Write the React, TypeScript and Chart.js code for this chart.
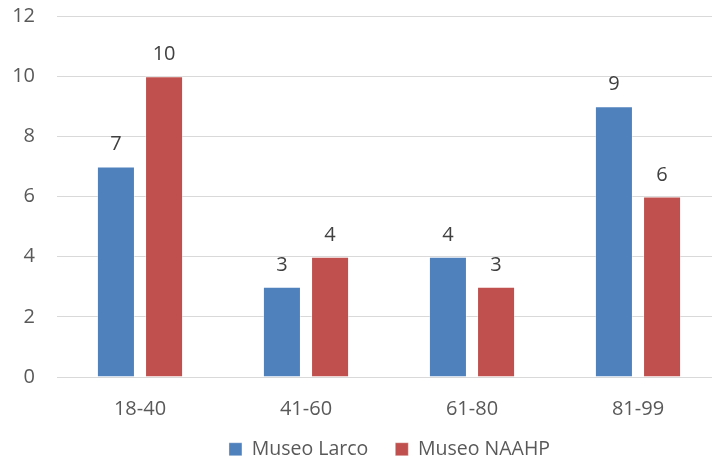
import React, { useEffect, useRef } from "react";
import { Chart, registerables } from "chart.js";

Chart.register(...registerables);

const categories = ["18-40", "41-60", "61-80", "81-99"];
const larco = [7, 3, 4, 9];
const naahp = [10, 4, 3, 6];
const seriesNames = ["Museo Larco", "Museo NAAHP"];
const yTicks = [0, 2, 4, 6, 8, 10, 12];

const FONT = "'Open Sans', 'Noto Sans', sans-serif";
const TEXT = "#595959";

const labelPlugin = {
  id: "barLabels",
  afterDatasetsDraw(chart: any) {
    const ctx = chart.ctx;
    ctx.save();
    ctx.fillStyle = "#404040";
    ctx.font = `20px ${FONT}`;
    ctx.textAlign = "center";
    ctx.textBaseline = "alphabetic";
    chart.data.datasets.forEach((ds: any, i: number) => {
      const meta = chart.getDatasetMeta(i);
      meta.data.forEach((el: any, j: number) => {
        ctx.fillText(String(ds.data[j]), el.x, el.y - 16);
      });
    });
    ctx.restore();
  },
};

export default function App() {
  const ref = useRef<HTMLCanvasElement | null>(null);
  useEffect(() => {
    if (!ref.current) return;
    const chart = new Chart(ref.current, {
      type: "bar",
      data: {
        labels: categories,
        datasets: [
          {
            label: seriesNames[0],
            data: larco,
            backgroundColor: "#4F81BD",
            borderColor: "rgba(255,255,255,0.35)",
            borderWidth: 1,
            categoryPercentage: 0.58,
            barPercentage: 0.79,
          },
          {
            label: seriesNames[1],
            data: naahp,
            backgroundColor: "#C0504D",
            borderColor: "rgba(255,255,255,0.35)",
            borderWidth: 1,
            categoryPercentage: 0.58,
            barPercentage: 0.79,
          },
        ],
      },
      options: {
        animation: false,
        responsive: false,
        devicePixelRatio: 1,
        layout: { padding: 0 },
        plugins: {
          tooltip: { enabled: false },
          legend: {
            position: "bottom",
            labels: {
              boxWidth: 13,
              boxHeight: 13,
              padding: 27,
              color: TEXT,
              font: { family: FONT, size: 19.5 },
            },
          },
        },
        scales: {
          x: {
            grid: { display: false, drawTicks: false },
            border: { display: false },
            ticks: { color: TEXT, font: { family: FONT, size: 20 }, padding: 20 },
            afterFit: (s: any) => {
              s.height = 35.5;
              s._computeLabelArea = () => undefined;
            },
          },
          y: {
            min: 0,
            max: 12,
            afterBuildTicks: (s: any) => {
              s.ticks = yTicks.map((v) => ({ value: v }));
            },
            afterFit: (s: any) => {
              s.width = 57;
              s.paddingTop = 16;
              s.paddingBottom = 0;
            },
            grid: { color: "#d9d9d9", lineWidth: 1, drawTicks: false },
            border: { display: false },
            ticks: { color: TEXT, font: { family: FONT, size: 20 }, padding: 22 },
          },
          y2: {
            position: "right",
            display: true,
            min: 0,
            max: 12,
            afterFit: (s: any) => {
              s.width = 58;
              s.paddingTop = 0;
              s.paddingBottom = 0;
            },
            grid: { display: false, drawTicks: false },
            border: { display: false },
            ticks: { display: false },
          },
        },
      },
      plugins: [labelPlugin],
    });
    return () => chart.destroy();
  }, []);
  return (
    <div style={{ position: "fixed", left: 0, top: 0, width: 712, height: 461, overflow: "hidden", background: "#fff" }}>
      <canvas ref={ref} width={779} height={469} style={{ display: "block" }} />
    </div>
  );
}
